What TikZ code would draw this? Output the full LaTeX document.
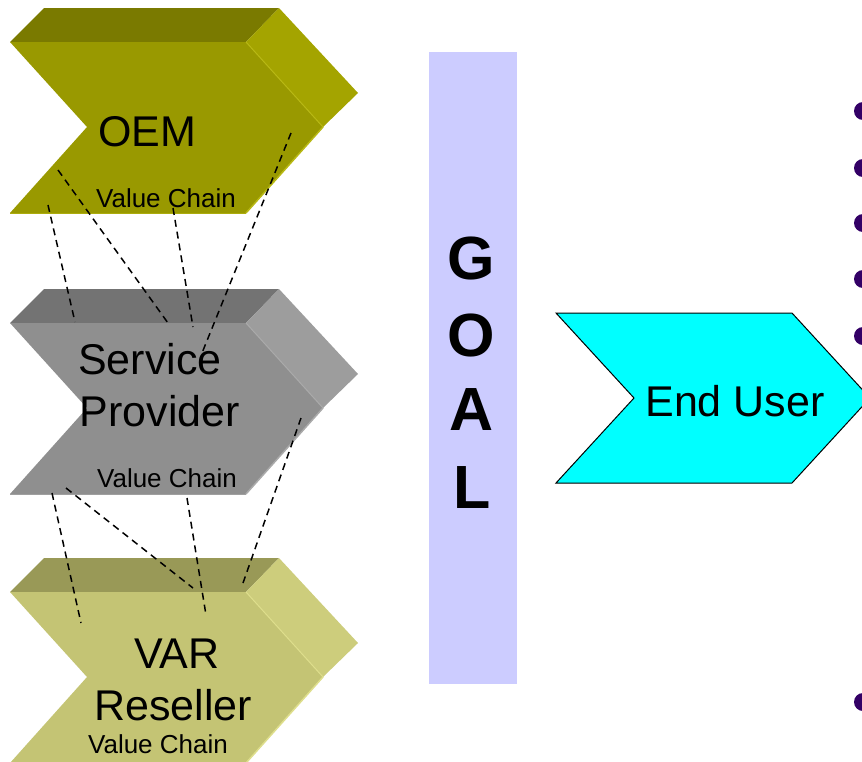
\documentclass[tikz,border=0pt]{standalone}
\usepackage{fontspec}
\setmainfont{Liberation Sans}

% colours of the three extruded chevrons (front, top, side, edge)
\definecolor{oemfront}{RGB}{153,153,0}
\definecolor{oemtop}{RGB}{122,122,0}
\definecolor{oemside}{RGB}{164,164,0}
\definecolor{oemedge}{RGB}{184,184,20}
\definecolor{spfront}{RGB}{143,143,143}
\definecolor{sptop}{RGB}{115,115,115}
\definecolor{spside}{RGB}{157,157,157}
\definecolor{spedge}{RGB}{170,170,170}
\definecolor{varfront}{RGB}{196,196,116}
\definecolor{vartop}{RGB}{153,153,87}
\definecolor{varside}{RGB}{205,205,124}
\definecolor{varedge}{RGB}{222,222,140}
\definecolor{goalbar}{RGB}{204,204,255}
\definecolor{enduser}{RGB}{0,255,255}
\definecolor{bulletpurple}{RGB}{51,0,102}

\tikzset{
  bigtext/.style={font=\fontsize{43}{48}\selectfont, anchor=base, inner sep=0pt},
  smalltext/.style={font=\fontsize{26}{30}\selectfont, anchor=base, inner sep=0pt},
  goalletter/.style={font=\fontsize{61}{70}\selectfont\bfseries, anchor=base, inner sep=0pt},
  link/.style={draw=black, line width=1.5pt, dash pattern=on 7pt off 5pt},
  bulletdot/.style={fill=bulletpurple, draw=none},
}

% extruded chevron: #1 = y of the front's top edge, #2 front, #3 top, #4 side, #5 edge
\newcommand{\chevronblock}[5]{%
  \begin{scope}[yshift=-#1pt]
    \fill[#3] (10,0) -- (44,-34) -- (279,-34) -- (246,0) -- cycle;
    \fill[#4] (246,0) -- (279,-34) -- (358,51) -- (323,85) -- cycle;
    \fill[#2] (10,0) -- (246,0) -- (323,85) -- (246,171) -- (10,171) -- (87,85) -- cycle;
    \draw[#5, line width=1.5pt] (323,85) -- (246,171);
    \draw[#5, line width=1pt] (246,0) -- (323,85);
    \draw[#5!60!#2, line width=0.8pt] (10,171) -- (246,171);
  \end{scope}%
}

\begin{document}
\begin{tikzpicture}[x=1pt, y=-1pt]
  \useasboundingbox (0,0) rectangle (862,761);
  \clip (0,0) rectangle (862,761);

  % the three value-chain chevrons
  \chevronblock{42}{oemfront}{oemtop}{oemside}{oemedge}
  \chevronblock{323}{spfront}{sptop}{spside}{spedge}
  \chevronblock{592}{varfront}{vartop}{varside}{varedge}

  \node[bigtext] (oem) at (147,146) {OEM};
  \node[smalltext] (oemvc) at (166,207) {Value Chain};
  \node[bigtext] (sp1) at (150,374) {Service};
  \node[bigtext] (sp2) at (160,426) {Provider};
  \node[smalltext] (spvc) at (167,487) {Value Chain};
  \node[bigtext] (var1) at (177,668) {VAR};
  \node[bigtext] (var2) at (173,720) {Reseller};
  \node[smalltext] (varvc) at (158,753) {Value Chain};

  % goal bar
  \fill[goalbar] (429,52) rectangle (517,684);
  \node[goalletter] (g) at (471,279) {G};
  \node[goalletter] (o) at (471,356) {O};
  \node[goalletter] (a) at (472,430) {A};
  \node[goalletter] (l) at (472,508) {L};

  % end user chevron
  \draw[fill=enduser, draw=black, line width=1pt]
    (556,313) -- (792,313) -- (870,398) -- (792,483) -- (556,483) -- (634,398) -- cycle;
  \node[bigtext] (eu) at (735,416) {End User};

  % bullets along the right edge
  \foreach \by in {111,168,223,279,336,702}
    \fill[bulletdot] (863,\by) circle (9);

  % dashed links between the chevrons
  \coordinate (a1) at (58,170);  \coordinate (a2) at (168,323);
  \coordinate (b1) at (48,205);  \coordinate (b2) at (75,322);
  \coordinate (c1) at (173,208); \coordinate (c2) at (193,327);
  \coordinate (d1) at (291,133); \coordinate (d2) at (202,353);
  \coordinate (e1) at (301,418); \coordinate (e2) at (243,583);
  \coordinate (f1) at (52,493);  \coordinate (f2) at (81,623);
  \coordinate (g1) at (66,488);  \coordinate (g2) at (193,588);
  \coordinate (h1) at (187,498); \coordinate (h2) at (206,615);
  \foreach \s in {a,b,c,d,e,f,g,h}
    \draw[link] (\s1) -- (\s2);
\end{tikzpicture}
\end{document}
